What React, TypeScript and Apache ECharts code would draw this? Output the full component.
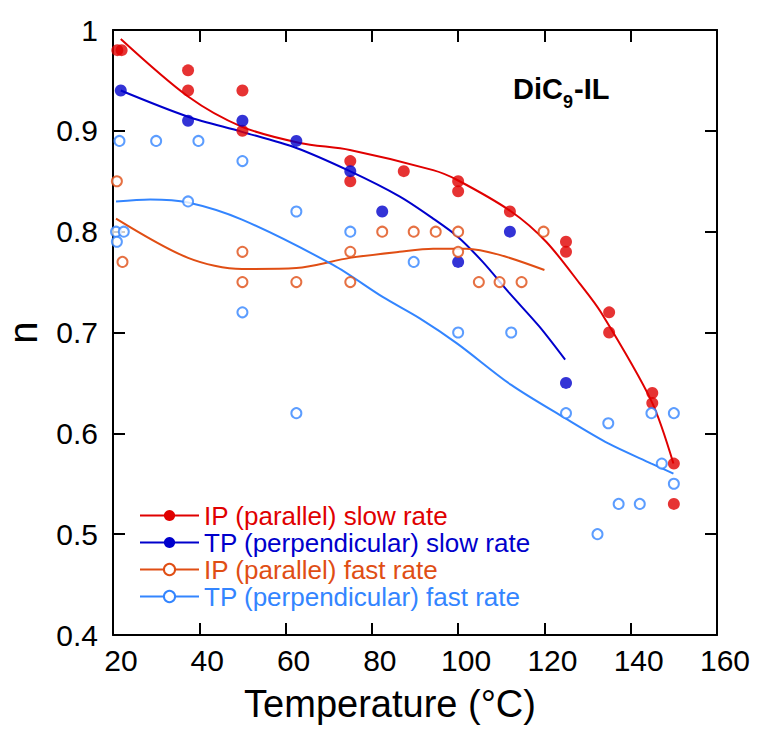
import React, { useEffect, useRef } from 'react';
import * as echarts from 'echarts';

// Measured points (Temperature °C, n)
const ipSlowT = [21, 22, 37.4, 37.4, 50, 50, 75, 75, 87.4, 100, 100, 112, 125, 125, 135, 135, 145, 145, 150, 150];
const ipSlowN = [0.98, 0.98, 0.96, 0.94, 0.94, 0.9, 0.87, 0.85, 0.86, 0.85, 0.84, 0.82, 0.79, 0.78, 0.72, 0.7, 0.64, 0.63, 0.57, 0.53];

const tpSlowT = [21.8, 37.4, 50, 62.5, 75, 82.4, 100, 112, 125];
const tpSlowN = [0.94, 0.91, 0.91, 0.89, 0.86, 0.82, 0.77, 0.8, 0.65];

const ipFastT = [20.9, 22.2, 50, 50, 62.5, 75, 75, 82.4, 89.7, 94.8, 100, 100, 104.8, 109.6, 114.7, 119.8];
const ipFastN = [0.85, 0.77, 0.78, 0.75, 0.75, 0.78, 0.75, 0.8, 0.8, 0.8, 0.8, 0.78, 0.75, 0.75, 0.75, 0.8];

const tpFastT = [21.5, 30, 39.8, 50, 37.4, 62.5, 20.7, 22.5, 20.9, 75, 89.7, 50, 62.5, 100, 112.3, 125, 134.8, 144.8, 150, 147.2, 150, 137.2, 142.1, 132.3];
const tpFastN = [0.89, 0.89, 0.89, 0.87, 0.83, 0.82, 0.8, 0.8, 0.79, 0.8, 0.77, 0.72, 0.62, 0.7, 0.7, 0.62, 0.61, 0.62, 0.62, 0.57, 0.55, 0.53, 0.53, 0.5];

// Fitted curves
const ipSlowFitT = [21.8, 37.4, 49.9, 63.3, 74.9, 94.2, 99.9, 112.3, 120.4, 128.1, 133.1, 144.8, 149.9];
const ipSlowFitN = [0.991, 0.934, 0.904, 0.888, 0.881, 0.861, 0.851, 0.82, 0.79, 0.749, 0.72, 0.632, 0.57];

const tpSlowFitT = [21.8, 37.4, 49.9, 62.5, 74.9, 86.4, 94.2, 99.9, 105.7, 111.9, 118.8, 124.8];
const tpSlowFitN = [0.94, 0.914, 0.899, 0.883, 0.86, 0.835, 0.813, 0.795, 0.77, 0.739, 0.706, 0.673];

const ipFastFitT = [20.7, 37.4, 49.9, 62.5, 74.9, 86.4, 94.2, 101.9, 109.6, 120];
const ipFastFitN = [0.813, 0.774, 0.763, 0.764, 0.774, 0.78, 0.783, 0.783, 0.777, 0.762];

const tpFastFitT = [20.7, 28.6, 37.4, 49.9, 71, 82.6, 91.1, 99.8, 112.3, 124.8, 134.8, 144.8, 149.9];
const tpFastFitN = [0.83, 0.832, 0.829, 0.812, 0.767, 0.735, 0.714, 0.689, 0.648, 0.615, 0.59, 0.57, 0.56];

const seriesNames = [
  'IP (parallel) slow rate',
  'TP (perpendicular) slow rate',
  'IP (parallel) fast rate',
  'TP (perpendicular) fast rate',
];
const seriesColors = ['#e00000', '#0000cc', '#e04e14', '#3385ff'];

const xTicks = { min: 20, max: 160, interval: 20 };
const yTicks = { min: 0.4, max: 1, interval: 0.1 };

const FONT = '"Liberation Sans", Arial, Helvetica, sans-serif';

function pairs(xs: number[], ys: number[]) {
  return xs.map((x, i) => [x, ys[i]]);
}

export default function App() {
  const ref = useRef<HTMLDivElement>(null);
  useEffect(() => {
    document.body.style.margin = '0';
    const chart = echarts.init(ref.current!, null, { renderer: 'svg' });

    const groups = [
      { pts: pairs(ipSlowT, ipSlowN), fit: pairs(ipSlowFitT, ipSlowFitN), empty: false },
      { pts: pairs(tpSlowT, tpSlowN), fit: pairs(tpSlowFitT, tpSlowFitN), empty: false },
      { pts: pairs(ipFastT, ipFastN), fit: pairs(ipFastFitT, ipFastFitN), empty: true },
      { pts: pairs(tpFastT, tpFastN), fit: pairs(tpFastFitT, tpFastFitN), empty: true },
    ];

    const lineSeries: any[] = groups.map((g, i) => ({
      name: seriesNames[i],
      type: 'line',
      data: g.fit,
      smooth: 0.3,
      symbol: g.empty ? 'emptyCircle' : 'circle',
      symbolSize: 11,
      showSymbol: false,
      silent: true,
      lineStyle: { color: seriesColors[i], width: 2 },
      itemStyle: { color: seriesColors[i] },
      z: 2,
    }));
    const scatterSeries: any[] = groups.map((g, i) => ({
      name: seriesNames[i],
      type: 'scatter',
      data: g.pts,
      symbol: g.empty ? 'emptyCircle' : 'circle',
      symbolSize: g.empty ? 10 : 12,
      itemStyle: g.empty
        ? { color: seriesColors[i], borderColor: seriesColors[i], borderWidth: 2 }
        : { color: seriesColors[i] },
      z: 3,
    }));

    const axisLine = { show: true, lineStyle: { color: '#000', width: 2 } };
    const axisTick = { show: true, inside: true, length: 12, lineStyle: { color: '#000', width: 2 } };
    const titleFont = { fontWeight: 'bold' as const, fontFamily: FONT, fill: '#000' };

    chart.setOption({
      animation: false,
      backgroundColor: '#fff',
      grid: { left: 113, right: 42, top: 30, bottom: 97, containLabel: false, outerBoundsMode: 'none' },
      xAxis: [
        {
          type: 'value',
          position: 'bottom',
          ...xTicks,
          axisLine,
          axisTick,
          splitLine: { show: false },
          axisLabel: {
            color: '#000',
            fontSize: 30,
            fontFamily: FONT,
            margin: 10,
            padding: [0, 0, 0, 16],
          },
          name: 'Temperature (°C)',
          nameLocation: 'middle',
          nameGap: 50,
          nameTextStyle: { color: '#000', fontSize: 38, fontFamily: FONT, padding: [0, 50, 0, 0] },
        },
        {
          type: 'value',
          position: 'top',
          ...xTicks,
          axisLine,
          axisTick,
          splitLine: { show: false },
          axisLabel: { show: false },
        },
      ],
      yAxis: [
        {
          type: 'value',
          position: 'left',
          ...yTicks,
          axisLine,
          axisTick,
          splitLine: { show: false },
          axisLabel: {
            color: '#000',
            fontSize: 30,
            fontFamily: FONT,
            margin: 15,
            formatter: (v: number) => String(Number(v.toFixed(1))),
          },
          name: 'n',
          nameLocation: 'middle',
          nameGap: 76,
          nameTextStyle: { color: '#000', fontSize: 40, fontFamily: FONT, lineHeight: 28 },
        },
        {
          type: 'value',
          position: 'right',
          ...yTicks,
          axisLine,
          axisTick,
          splitLine: { show: false },
          axisLabel: { show: false },
        },
      ],
      legend: {
        orient: 'vertical',
        left: 139,
        top: 502,
        itemWidth: 59,
        itemHeight: 14,
        itemGap: 0,
        padding: 0,
        selectedMode: false,
        textStyle: { fontSize: 26, fontFamily: FONT, lineHeight: 27 },
        data: seriesNames.map((n, i) => ({ name: n, textStyle: { color: seriesColors[i] } })),
      },
      graphic: [
        {
          type: 'group',
          left: 513,
          top: 74,
          children: [
            { type: 'text', x: 0, y: 0, style: { text: 'DiC', fontSize: 29, ...titleFont } },
            { type: 'text', x: 50, y: 19, style: { text: '9', fontSize: 18, ...titleFont } },
            { type: 'text', x: 61, y: 0, style: { text: '-IL', fontSize: 29, ...titleFont } },
          ],
        },
      ],
      series: [...lineSeries, ...scatterSeries],
    });
    return () => chart.dispose();
  }, []);
  return <div ref={ref} style={{ width: 759, height: 732 }} />;
}
